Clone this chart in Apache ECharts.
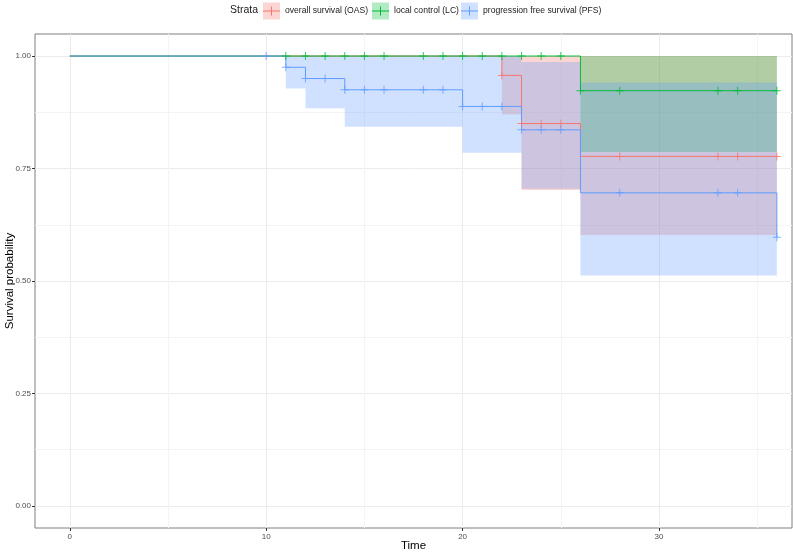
<!DOCTYPE html>
<html lang="en">
<head>
    <meta charset="UTF-8">
    <title>Survival curves</title>
    <script src="https://cdn.jsdelivr.net/npm/echarts@6/dist/echarts.min.js"></script>
    <style>
        html, body { margin: 0; height: 100%; background: #fff; }
        #main { width: 793px; height: 552px; }
    </style>
</head>
<body>
<div id="main"></div>
<script>
    // strata names
    var strata = ['overall survival (OAS)', 'local control (LC)', 'progression free survival (PFS)'];

    // overall survival: step times, estimate, confidence band, censor times
    var oasTime = [0, 22, 23, 26, 36];
    var oasSurv = [1, 0.957, 0.850, 0.777, 0.777];
    var oasLower = [1, 0.870, 0.702, 0.602, 0.602];
    var oasUpper = [1, 1, 1, 1, 1];
    var oasCensor = [22, 23, 24, 25, 28, 33, 34, 36];

    // local control
    var lcTime = [0, 26, 36];
    var lcSurv = [1, 0.923, 0.923];
    var lcLower = [1, 0.787, 0.787];
    var lcUpper = [1, 1, 1];
    var lcCensor = [11, 12, 13, 14, 15, 16, 18, 19, 20, 21, 22, 23, 24, 25, 26, 28, 33, 34, 36];

    // progression free survival
    var pfsTime = [0, 11, 12, 14, 20, 23, 26, 36];
    var pfsSurv = [1, 0.975, 0.950, 0.925, 0.888, 0.836, 0.696, 0.597];
    var pfsLower = [1, 0.928, 0.884, 0.843, 0.785, 0.705, 0.512, 0.512];
    var pfsUpper = [1, 1, 1, 1, 1, 0.987, 0.941, 0.941];
    var pfsCensor = [10, 11, 12, 13, 14, 15, 16, 18, 19, 20, 21, 22, 23, 24, 25, 28, 33, 34, 36];

    // axis ticks
    var xTicks = [0, 10, 20, 30];
    var xMinor = [5, 15, 25, 35];
    var yTicks = [0, 0.25, 0.5, 0.75, 1];
    var yMinor = [0.125, 0.375, 0.625, 0.875];

    var lineColors = ['#F8766D', '#00BA38', '#619CFF'];
    var fillColors = ['rgba(248,118,109,0.3)', 'rgba(0,186,56,0.3)', 'rgba(97,156,255,0.3)'];
    var font = 'Liberation Sans, Arial, sans-serif';

    var curves = [
        {t: oasTime, s: oasSurv, lo: oasLower, hi: oasUpper, c: oasCensor},
        {t: lcTime, s: lcSurv, lo: lcLower, hi: lcUpper, c: lcCensor},
        {t: pfsTime, s: pfsSurv, lo: pfsLower, hi: pfsUpper, c: pfsCensor}
    ];

    // value of the step function at time x
    function stepAt(cv, x) {
        var v = cv.s[0];
        for (var i = 0; i < cv.t.length; i++) {
            if (cv.t[i] <= x) v = cv.s[i];
        }
        return v;
    }

    function ribbonItem(params, api) {
        var a = api.coord([api.value(0), api.value(3)]);
        var b = api.coord([api.value(1), api.value(2)]);
        return {
            type: 'rect',
            shape: {x: a[0], y: a[1], width: b[0] - a[0], height: b[1] - a[1]},
            style: {fill: api.visual('color')}
        };
    }

    var plus = 'path://M-0.5,-4H0.5V4H-0.5Z M-4,-0.5H4V0.5H-4Z';
    var keyPlus = 'path://M0,4H17V5H0Z M8,0H9V9H8Z';

    var ribbons = [], lines = [], marks = [];
    curves.forEach(function (cv, k) {
        var rb = [];
        for (var i = 0; i < cv.t.length - 1; i++) {
            if (cv.hi[i] > cv.lo[i]) rb.push([cv.t[i], cv.t[i + 1], cv.lo[i], cv.hi[i]]);
        }
        ribbons.push({
            name: strata[k], type: 'custom', renderItem: ribbonItem,
            itemStyle: {color: fillColors[k]},
            encode: {x: [0, 1], y: [2, 3]},
            data: rb, silent: true, z: 1
        });
        lines.push({
            name: strata[k], type: 'line', step: 'end', symbol: 'none',
            lineStyle: {color: lineColors[k], width: 1},
            itemStyle: {color: lineColors[k]},
            data: cv.t.map(function (x, i) { return [x, cv.s[i]]; }),
            silent: true, z: 2
        });
        marks.push({
            name: strata[k], type: 'scatter', symbol: plus, symbolSize: 8,
            itemStyle: {color: lineColors[k]},
            data: cv.c.map(function (x) { return [x, stepAt(cv, x)]; }),
            silent: true, z: 3
        });
    });

    // legend: one text legend + one key-overlay legend per stratum
    var keyLeft = [263, 372, 461];
    var legends = [];
    strata.forEach(function (name, k) {
        legends.push({
            left: keyLeft[k], top: 2.5, padding: 0, itemWidth: 17, itemHeight: 17, itemGap: 0,
            selectedMode: false,
            textStyle: {fontSize: 8.6, color: '#1a1a1a', fontFamily: font},
            data: [{name: name, icon: 'rect', itemStyle: {color: fillColors[k]}}]
        });
        legends.push({
            left: keyLeft[k], top: 6.5, padding: 0, itemWidth: 17, itemHeight: 9, itemGap: 0,
            selectedMode: false,
            formatter: function () { return ''; },
            data: [{name: name, icon: keyPlus, itemStyle: {color: lineColors[k]}}]
        });
    });

    var axisText = {fontSize: 8, color: '#4d4d4d', fontFamily: font};
    var nameText = {fontSize: 11.5, color: '#000', fontFamily: font};

    var option = {
        animation: false,
        backgroundColor: '#fff',
        title: {
            text: 'Strata', left: 230, top: 5, padding: 0,
            textStyle: {fontSize: 10.5, fontWeight: 'normal', color: '#1a1a1a', fontFamily: font}
        },
        legend: legends,
        grid: {
            left: 35, right: 1, top: 34, bottom: 24, outerBoundsMode: 'none', containLabel: false,
            show: true, borderColor: '#7f7f7f', borderWidth: 1, backgroundColor: '#fff'
        },
        xAxis: [{
            type: 'value', min: -1.77, max: 36.77, position: 'bottom',
            name: 'Time', nameLocation: 'middle', nameGap: 12, nameMoveOverlap: false,
            nameTextStyle: nameText,
            axisLine: {show: false, onZero: false},
            axisTick: {show: true, length: 3, lineStyle: {color: '#333'}, customValues: xTicks},
            axisLabel: Object.assign({margin: 5, customValues: xTicks}, axisText),
            splitLine: {show: true, lineStyle: {color: '#ebebeb', width: 1}}
        }, {
            type: 'value', min: -1.77, max: 36.77, position: 'bottom',
            axisLine: {show: false, onZero: false},
            axisTick: {show: false, customValues: xMinor},
            axisLabel: {show: false, customValues: xMinor},
            splitLine: {show: true, lineStyle: {color: '#f4f4f4', width: 1}}
        }],
        yAxis: [{
            type: 'value', min: -0.049, max: 1.049, position: 'left',
            name: 'Survival probability', nameLocation: 'middle', nameGap: 19, nameMoveOverlap: false,
            nameTextStyle: nameText,
            axisLine: {show: false, onZero: false},
            axisTick: {show: true, length: 3, lineStyle: {color: '#333'}, customValues: yTicks},
            axisLabel: Object.assign({
                margin: 4, customValues: yTicks,
                formatter: function (v) { return v.toFixed(2); }
            }, axisText),
            splitLine: {show: true, lineStyle: {color: '#ebebeb', width: 1}}
        }, {
            type: 'value', min: -0.049, max: 1.049, position: 'left',
            axisLine: {show: false, onZero: false},
            axisTick: {show: false, customValues: yMinor},
            axisLabel: {show: false, customValues: yMinor},
            splitLine: {show: true, lineStyle: {color: '#f4f4f4', width: 1}}
        }],
        series: ribbons.concat(lines, marks)
    };

    var myChart = echarts.init(document.getElementById('main'), null, {renderer: 'canvas'});
    myChart.setOption(option);
</script>
</body>
</html>
